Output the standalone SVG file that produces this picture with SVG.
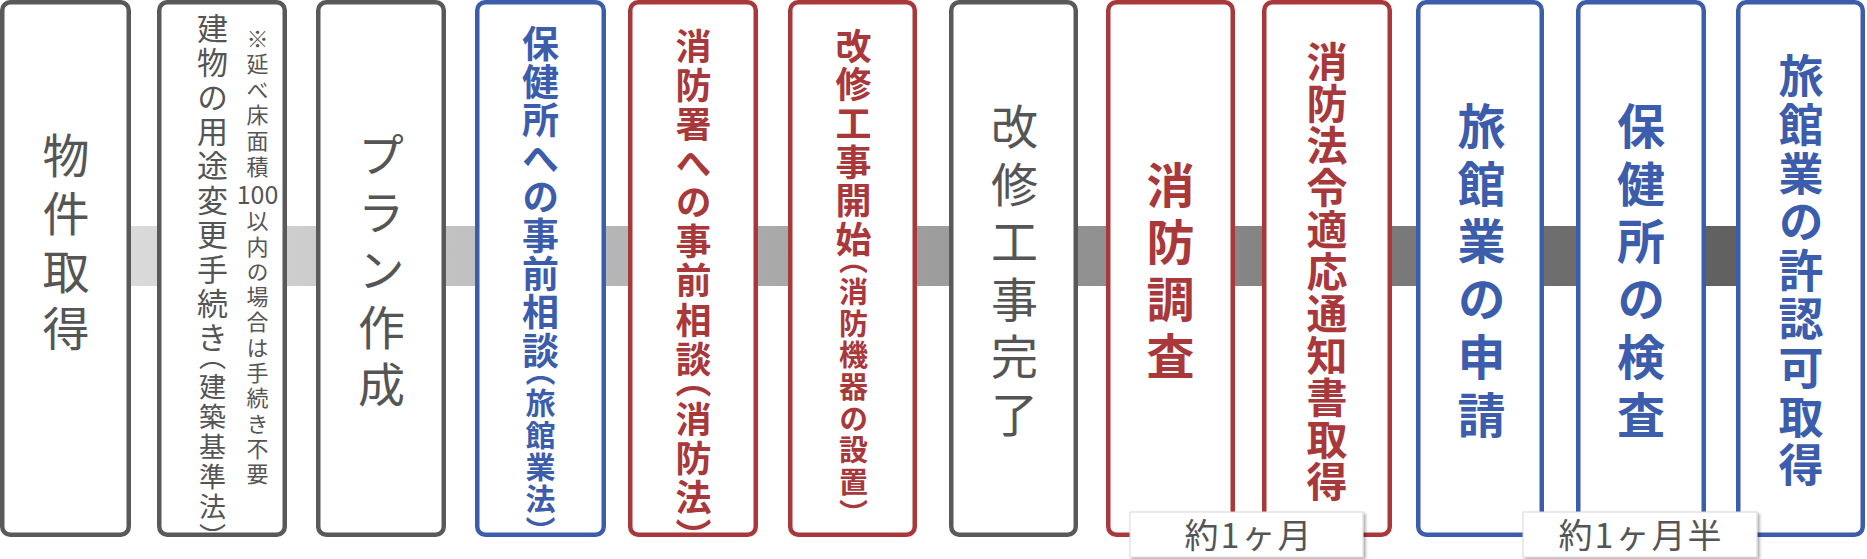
<svg xmlns="http://www.w3.org/2000/svg" width="1867" height="559" viewBox="0 0 1867 559">
<defs>
<linearGradient id="barGrad" gradientUnits="userSpaceOnUse" x1="0" y1="0" x2="1867" y2="0">
<stop offset="0" stop-color="#e4e4e4"/>
<stop offset="1" stop-color="#565656"/>
</linearGradient>
<filter id="shadow" x="-10%" y="-20%" width="125%" height="160%">
<feDropShadow dx="2" dy="2" stdDeviation="1.5" flood-color="#000" flood-opacity="0.35"/>
</filter>
</defs>
<style>
.box{fill:#fff;stroke-width:4.5}
.gray{stroke:#595959}
.blue{stroke:#3b5dab}
.red{stroke:#a9383b}
.v{writing-mode:vertical-rl;font-family:"Noto Sans CJK JP","Noto Sans",sans-serif;font-feature-settings:"vhal" 1}
.tg{fill:#555;font-weight:400}
.tb{fill:#3b5dab;font-weight:700}
.tr{fill:#a9383b;font-weight:700}
.seg{fill:url(#barGrad)}
.lbl{fill:#fff;stroke:#d8d8d8;stroke-width:1}
.lt{font-family:"Noto Sans CJK JP","Noto Sans",sans-serif;font-size:34px;fill:#555;text-anchor:middle;letter-spacing:2px}
</style>
<g id="connectors">
<rect class="seg" x="128" y="226" width="32" height="60"/>
<rect class="seg" x="284" y="226" width="35" height="60"/>
<rect class="seg" x="443" y="226" width="35" height="60"/>
<rect class="seg" x="603" y="226" width="28" height="60"/>
<rect class="seg" x="755" y="226" width="36" height="60"/>
<rect class="seg" x="914" y="226" width="38" height="60"/>
<rect class="seg" x="1075" y="226" width="34" height="60"/>
<rect class="seg" x="1232" y="226" width="33" height="60"/>
<rect class="seg" x="1389" y="226" width="30" height="60"/>
<rect class="seg" x="1541" y="226" width="38" height="60"/>
<rect class="seg" x="1703" y="226" width="36" height="60"/>
</g>
<g id="node-1">
<rect class="box gray" x="2.25" y="2.25" width="126.5" height="532.5" rx="8"/>
<text class="v tg" x="66" y="131.6" font-size="47" letter-spacing="10.8">物件取得</text>
</g>
<g id="node-2">
<rect class="box gray" x="159.25" y="2.25" width="125.5" height="532.5" rx="8"/>
<text class="v tg" x="212.5" y="12.5" font-size="31" letter-spacing="3.4">建物の用途変更手続き<tspan font-size="27" letter-spacing="3">（建築基準法）</tspan></text>
<text class="v tg" x="257.5" y="27.3" font-size="22" letter-spacing="3.6">※延べ床面積</text>
<text x="257.5" y="204" font-family="'Noto Sans CJK JP','Noto Sans',sans-serif" font-size="25" fill="#555" text-anchor="middle">100</text>
<text class="v tg" x="257.5" y="209.9" font-size="22" letter-spacing="3.3">以内の場合は手続き不要</text>
</g>
<g id="node-3">
<rect class="box gray" x="318.25" y="2.25" width="125.5" height="532.5" rx="8"/>
<text class="v tg" x="381.5" y="131" font-size="47" letter-spacing="10.5">プラン作成</text>
</g>
<g id="node-4">
<rect class="box blue" x="477.25" y="2.25" width="126.5" height="532.5" rx="8"/>
<text class="v tb" x="540.5" y="25" font-size="37" letter-spacing="1.4">保健所への事前相談<tspan font-size="30" letter-spacing="2">（旅館業法）</tspan></text>
</g>
<g id="node-5">
<rect class="box red" x="630.25" y="2.25" width="125.5" height="532.5" rx="8"/>
<text class="v tr" x="693.5" y="28.2" font-size="36" letter-spacing="3.1">消防署への事前相談（消防法）</text>
</g>
<g id="node-6">
<rect class="box red" x="790.25" y="2.25" width="124.5" height="532.5" rx="8"/>
<text class="v tr" x="853.5" y="28.2" font-size="36" letter-spacing="2.6">改修工事開始<tspan font-size="29" letter-spacing="2.7">（消防機器の設置）</tspan></text>
</g>
<g id="node-7">
<rect class="box gray" x="951.25" y="2.25" width="124.5" height="532.5" rx="8"/>
<text class="v tg" x="1014.5" y="102.6" font-size="47" letter-spacing="10.6">改修工事完了</text>
</g>
<g id="node-8">
<rect class="box red" x="1108.25" y="2.25" width="124.5" height="532.5" rx="8"/>
<text class="v tr" x="1170.5" y="160.6" font-size="48" letter-spacing="9">消防調査</text>
</g>
<g id="node-9">
<rect class="box red" x="1264.25" y="2.25" width="125.5" height="532.5" rx="8"/>
<text class="v tr" x="1327" y="41" font-size="41" letter-spacing="1">消防法令適応通知書取得</text>
</g>
<g id="node-10">
<rect class="box blue" x="1418.25" y="2.25" width="123.5" height="532.5" rx="8"/>
<text class="v tb" x="1481.5" y="101.6" font-size="48" letter-spacing="9.8">旅館業の申請</text>
</g>
<g id="node-11">
<rect class="box blue" x="1578.25" y="2.25" width="125.5" height="532.5" rx="8"/>
<text class="v tb" x="1641" y="101.6" font-size="48" letter-spacing="9.8">保健所の検査</text>
</g>
<g id="node-12">
<rect class="box blue" x="1738.25" y="2.25" width="124.5" height="532.5" rx="8"/>
<text class="v tb" x="1801" y="53.8" font-size="45" letter-spacing="3.6">旅館業の許認可取得</text>
</g>
<g id="label-1">
<rect class="lbl" x="1130" y="512" width="233" height="45" filter="url(#shadow)"/>
<text class="lt" x="1249" y="547.5">約1ヶ月</text>
</g>
<g id="label-2">
<rect class="lbl" x="1523" y="512" width="234" height="45" filter="url(#shadow)"/>
<text class="lt" x="1641" y="547.5">約1ヶ月半</text>
</g>
</svg>
